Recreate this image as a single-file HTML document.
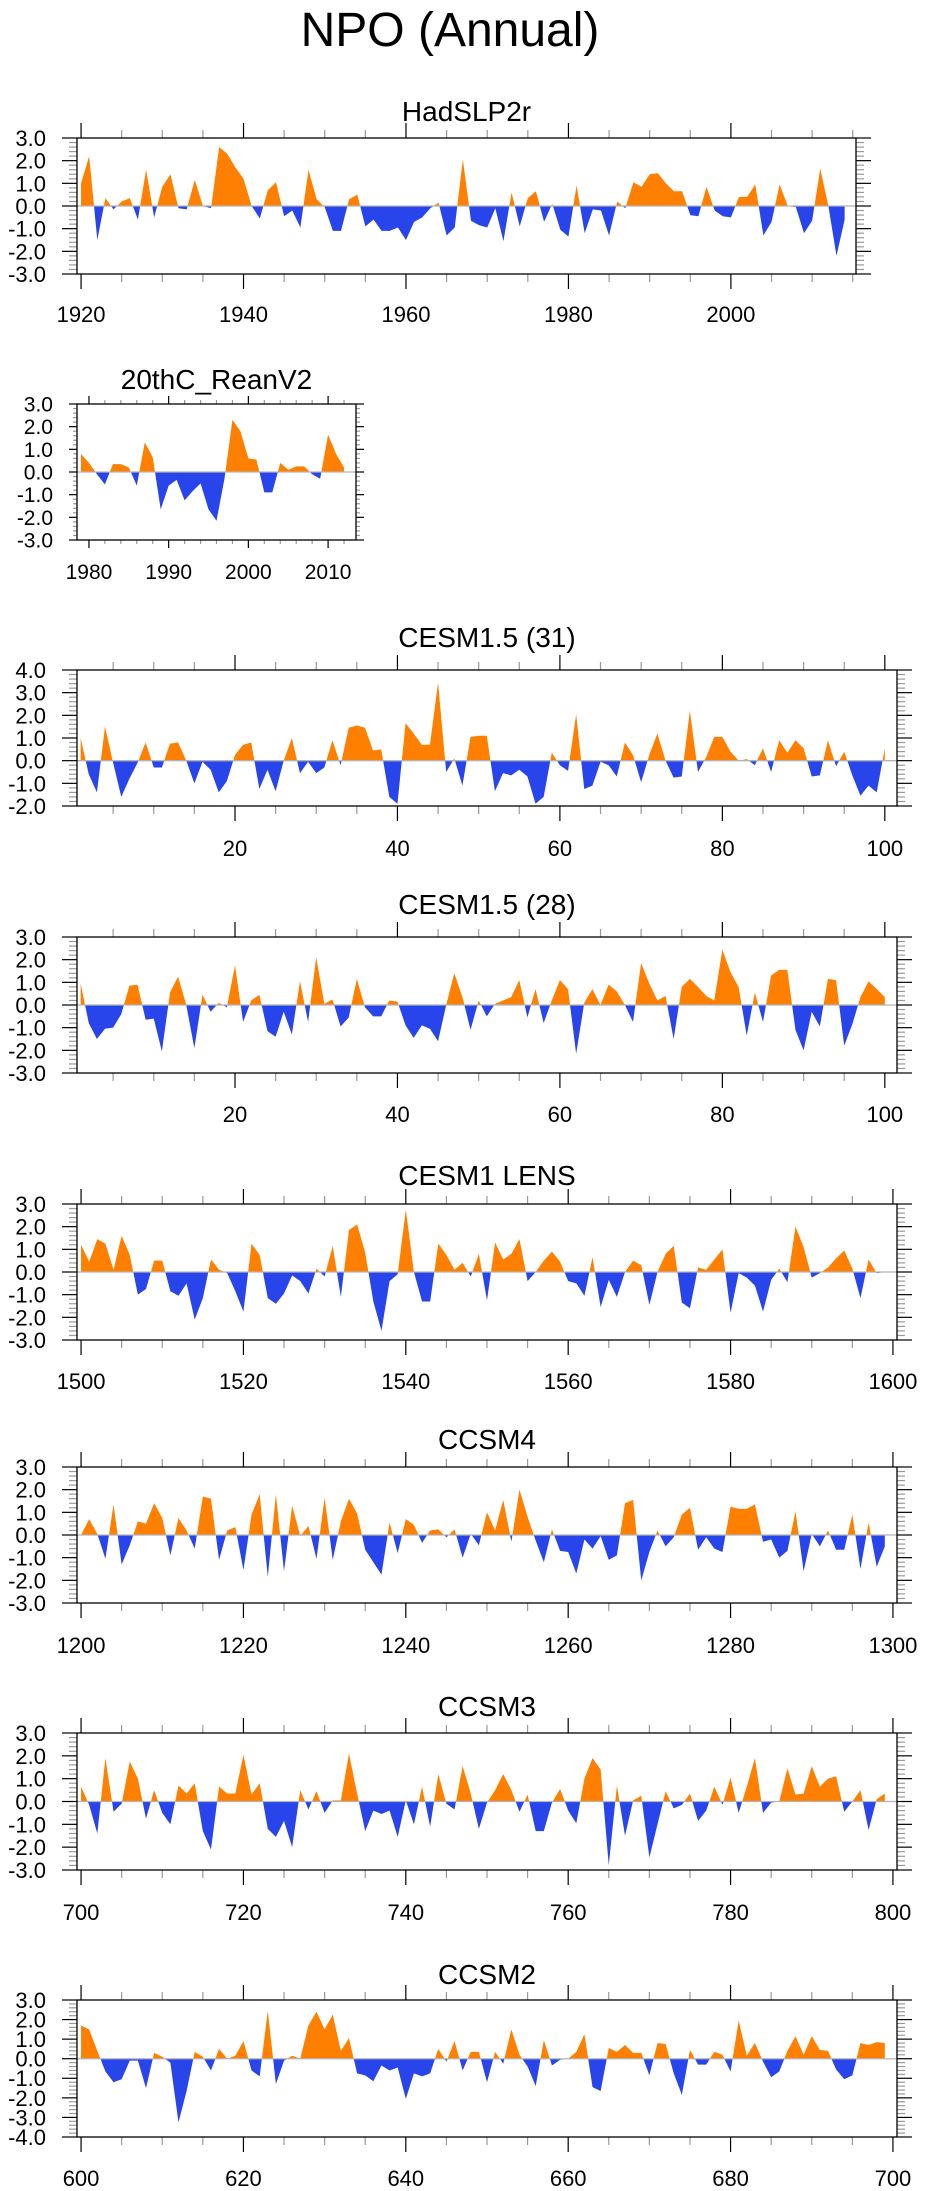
<!DOCTYPE html>
<html><head><meta charset="utf-8">
<style>
html,body{margin:0;padding:0;background:#fff;}
svg{display:block;font-family:"Liberation Sans",Arial,sans-serif;}
</style></head>
<body>
<svg id="fig" width="925" height="2191" viewBox="0 0 925 2191" xmlns="http://www.w3.org/2000/svg">
<text x="450" y="46" font-size="48" text-anchor="middle">NPO (Annual)</text>
</svg>
<script>
// ---- data ----
const hadYears0 = 1920;
const hadVals = [1.0,2.2,-1.5,0.35,-0.15,0.2,0.35,-0.6,1.6,-0.5,0.85,1.4,-0.1,-0.15,1.15,0.0,-0.1,2.6,2.3,1.7,1.2,0.0,-0.55,0.7,1.05,-0.45,-0.2,-0.95,1.6,0.3,-0.05,-1.1,-1.1,0.3,0.5,-0.9,-0.6,-1.1,-1.1,-0.95,-1.5,-0.7,-0.5,-0.1,0.15,-1.3,-0.95,2.05,-0.65,-0.85,-0.95,-0.1,-1.55,0.6,-0.9,0.35,0.65,-0.7,0.1,-1.05,-1.35,0.9,-1.2,-0.15,-0.2,-1.3,0.2,-0.1,1.05,0.85,1.4,1.45,1.0,0.65,0.65,-0.4,-0.45,0.85,-0.2,-0.45,-0.5,0.4,0.4,0.95,-1.3,-0.7,0.95,0.0,-0.05,-1.2,-0.65,1.65,0.0,-2.2,-0.6];
const reanYears0 = 1979;
const reanVals = [0.8,0.4,-0.1,-0.55,0.35,0.35,0.2,-0.6,1.3,0.65,-1.65,-0.6,-0.35,-1.25,-0.85,-0.5,-1.65,-2.15,-0.3,2.3,1.8,0.6,0.55,-0.9,-0.9,0.4,0.1,0.25,0.25,-0.1,-0.3,1.65,0.8,0.2];
const cesm31Start = 1;
const cesm31Vals = [1.0,-0.6,-1.4,1.5,-0.1,-1.6,-0.8,-0.1,0.8,-0.3,-0.3,0.75,0.8,0.0,-1.0,-0.05,-0.4,-1.4,-0.9,0.25,0.7,0.8,-1.25,-0.4,-1.35,0.0,1.0,-0.55,-0.05,-0.55,-0.3,0.9,-0.2,1.45,1.55,1.45,0.45,0.5,-1.6,-1.9,1.65,1.2,0.7,0.7,3.45,-0.5,0.1,-1.1,1.05,1.1,1.1,-1.35,-0.55,-0.65,-0.4,-0.7,-1.9,-1.6,0.35,-0.2,-0.45,2.05,-1.25,-1.1,-0.05,-0.2,-0.7,0.8,0.25,-0.95,0.25,1.2,0.0,-0.75,-0.7,2.2,-0.5,0.15,1.05,1.05,0.4,0.0,0.07,-0.2,0.55,-0.5,0.9,0.35,0.9,0.55,-0.7,-0.65,0.9,-0.25,0.4,-0.65,-1.55,-1.1,-1.4,0.55];
const cesm28Start = 1;
const cesm28Vals = [0.95,-0.8,-1.5,-1.05,-1.0,-0.4,0.85,0.9,-0.65,-0.6,-2.05,0.55,1.25,0.0,-1.9,0.45,-0.3,0.1,-0.1,1.75,-0.75,0.2,0.45,-1.15,-1.4,-0.3,-1.3,1.05,-0.75,2.1,0.05,0.25,-0.95,-0.55,1.15,-0.1,-0.5,-0.5,0.2,0.15,-0.9,-1.45,-0.9,-1.05,-1.6,0.0,1.4,0.35,-1.1,0.2,-0.5,0.05,0.2,0.35,1.1,-0.55,0.7,-0.8,0.2,1.1,0.7,-2.15,0.1,0.7,0.0,0.9,0.6,0.0,-0.75,1.85,0.95,0.2,0.4,-1.5,0.8,1.15,0.8,0.4,0.2,2.45,1.45,0.8,-1.35,0.55,-0.75,1.3,1.55,1.55,-1.1,-2.0,-0.3,-0.95,1.15,1.1,-1.8,-0.85,0.35,1.05,0.7,0.35];
const lensStart = 1500;
const lensVals = [1.2,0.45,1.45,1.25,0.1,1.6,0.75,-1.0,-0.75,0.5,0.5,-0.85,-1.05,-0.5,-2.1,-1.15,0.55,0.1,-0.05,-0.85,-1.75,1.25,0.75,-1.15,-1.4,-0.95,-0.15,-0.4,-0.95,0.15,-0.2,1.15,-1.1,1.85,2.1,0.85,-1.3,-2.6,-0.4,-0.1,2.75,0.0,-1.3,-1.3,1.25,0.75,0.1,0.4,-0.2,0.8,-1.25,1.3,0.55,0.8,1.45,-0.4,0.0,0.5,0.9,0.45,-0.4,-0.5,-1.05,0.65,-1.55,-0.35,-1.1,0.0,0.5,0.3,-1.45,0.0,0.8,1.15,-1.35,-1.6,0.2,0.1,0.55,1.0,-1.8,-0.05,-0.25,-0.6,-1.75,-0.35,0.15,-0.45,2.0,1.1,-0.25,-0.05,0.2,0.6,0.95,0.15,-1.15,0.55,-0.05,0.0];
const ccsm4Start = 1200;
const ccsm4Vals = [0.0,0.7,0.05,-1.05,1.35,-1.3,-0.45,0.6,0.5,1.4,0.75,-0.9,0.75,0.2,-0.6,1.7,1.6,-1.1,0.2,0.35,-1.55,0.9,1.8,-1.85,1.8,-1.6,1.3,-0.05,0.4,-1.05,1.65,-1.1,0.6,1.6,0.95,-0.65,-1.2,-1.75,0.55,-0.8,0.7,0.45,-0.35,0.2,0.25,-0.1,0.25,-1.0,0.05,-0.45,1.0,0.2,1.55,-0.3,2.0,0.8,-0.25,-1.2,0.25,-0.7,-0.75,-1.7,-0.2,-0.6,-0.05,-1.1,-0.9,1.4,1.55,-2.0,-0.75,0.2,-0.5,-0.1,0.9,1.2,-0.65,-0.1,-0.6,-0.75,1.25,1.15,1.15,1.35,-0.3,-0.2,-1.0,-0.7,1.05,-1.6,0.05,-0.5,0.2,-0.65,-0.65,0.9,-1.5,0.55,-1.4,-0.5];
const ccsm3Start = 700;
const ccsm3Vals = [0.65,-0.15,-1.4,1.9,-0.45,-0.1,1.75,1.0,-0.75,0.5,-0.5,-1.0,0.7,0.35,0.8,-1.3,-2.1,0.65,0.35,0.35,2.05,0.3,0.8,-1.2,-1.55,-0.85,-2.0,0.5,-0.35,0.45,-0.5,0.05,0.05,2.1,0.35,-1.3,-0.4,-0.55,-0.4,-1.55,0.05,-1.0,0.65,-1.1,1.2,-0.1,-0.35,1.55,0.35,-1.2,-0.05,0.5,1.2,0.5,-0.45,0.3,-1.3,-1.3,-0.05,0.55,-0.4,-0.95,1.0,1.9,1.4,-2.8,0.7,-1.5,0.05,0.25,-2.45,-1.0,0.45,-0.3,-0.15,0.35,-0.85,-0.4,0.65,-0.15,1.05,-0.5,0.65,1.9,-0.5,-0.05,0.0,1.45,0.3,0.35,1.55,0.65,1.0,1.1,-0.45,0.0,0.5,-1.25,0.1,0.35];
const ccsm2Start = 600;
const ccsm2Vals = [1.7,1.5,0.4,-0.65,-1.2,-1.05,-0.1,-0.1,-1.5,0.3,0.1,-0.2,-3.25,-1.65,0.35,0.1,-0.6,0.5,0.0,0.15,0.9,-0.6,-0.9,2.45,-1.3,-0.1,0.15,0.0,1.7,2.4,1.5,2.25,0.4,1.05,-0.75,-0.85,-1.15,-0.35,-0.6,-0.45,-2.05,-0.75,-0.9,-0.75,0.5,-0.15,0.9,-0.6,0.35,0.35,-1.2,0.35,-0.25,1.5,0.2,-0.4,-1.4,0.95,-0.35,-0.05,0.0,0.35,1.25,-1.45,-1.65,0.55,0.35,0.7,0.3,0.3,-0.85,0.8,0.75,-0.75,-1.85,0.45,-0.3,-0.3,0.35,0.2,-0.65,1.95,0.15,0.8,-0.15,-0.95,-0.65,0.4,1.15,0.2,1.15,0.45,0.4,-0.55,-1.05,-0.85,0.8,0.7,0.85,0.8];

// ---- layout ----
const panels = [
 {name:'hadslp2r',title:'HadSLP2r',start:hadYears0,vals:hadVals,L:77,R:856,T:138,B:274,xmin:1919.5,xmax:2015.4,ymin:-3,ymax:3,maj:20,min:5,first:1920,titleY:121,labY:322,maxL:15,minL:8,lab:22,labR:46,tfs:28},
 {name:'20thc-reanv2',title:'20thC_ReanV2',start:reanYears0,vals:reanVals,L:77,R:356,T:404,B:540,xmin:1978.5,xmax:2013.5,ymin:-3,ymax:3,maj:10,min:2,first:1980,titleY:389,labY:579,maxL:8,minL:4,lab:21,labR:53,tfs:28},
 {name:'cesm15-31',title:'CESM1.5 (31)',start:cesm31Start,vals:cesm31Vals,L:77,R:897,T:670,B:806,xmin:0.55,xmax:101.5,ymin:-2,ymax:4,maj:20,min:5,first:20,titleY:647,labY:856,maxL:15,minL:8,lab:22,labR:46,tfs:28},
 {name:'cesm15-28',title:'CESM1.5 (28)',start:cesm28Start,vals:cesm28Vals,L:77,R:897,T:937,B:1073,xmin:0.55,xmax:101.5,ymin:-3,ymax:3,maj:20,min:5,first:20,titleY:914,labY:1122,maxL:15,minL:8,lab:22,labR:46,tfs:28},
 {name:'cesm1-lens',title:'CESM1 LENS',start:lensStart,vals:lensVals,L:77,R:897,T:1204,B:1340,xmin:1499.5,xmax:1600.5,ymin:-3,ymax:3,maj:20,min:5,first:1500,titleY:1185,labY:1389,maxL:15,minL:8,lab:22,labR:46,tfs:28},
 {name:'ccsm4',title:'CCSM4',start:ccsm4Start,vals:ccsm4Vals,L:77,R:897,T:1467,B:1603,xmin:1199.5,xmax:1300.5,ymin:-3,ymax:3,maj:20,min:5,first:1200,titleY:1449,labY:1653,maxL:15,minL:8,lab:22,labR:46,tfs:28},
 {name:'ccsm3',title:'CCSM3',start:ccsm3Start,vals:ccsm3Vals,L:77,R:897,T:1733,B:1870,xmin:699.5,xmax:800.5,ymin:-3,ymax:3,maj:20,min:5,first:700,titleY:1716,labY:1920,maxL:15,minL:8,lab:22,labR:46,tfs:28},
 {name:'ccsm2',title:'CCSM2',start:ccsm2Start,vals:ccsm2Vals,L:77,R:897,T:2000,B:2137,xmin:599.5,xmax:700.5,ymin:-4,ymax:3,maj:20,min:5,first:600,titleY:1984,labY:2186,maxL:15,minL:8,lab:22,labR:46,tfs:28}
];

const NS='http://www.w3.org/2000/svg';
const svg=document.getElementById('fig');
function mk(tag,attrs,parent){const e=document.createElementNS(NS,tag);for(const k in attrs)e.setAttribute(k,attrs[k]);(parent||svg).appendChild(e);return e;}

panels.forEach((p,pi)=>{
  const g=mk('g',{});
  
  
  const xs=v=>p.L+(v-p.xmin)/(p.xmax-p.xmin)*(p.R-p.L);
  const ys=v=>p.B-(v-p.ymin)/(p.ymax-p.ymin)*(p.B-p.T);
  // title
  const t=mk('text',{x:(p.L+p.R)/2,y:p.titleY,'font-size':p.tfs,'text-anchor':'middle'},g);
  t.textContent=p.title;
  
  
  // area fill
  const y0=ys(0);
  let d='M'+xs(p.start)+','+y0;
  p.vals.forEach((v,i)=>{d+=' L'+xs(p.start+i).toFixed(2)+','+ys(v).toFixed(2);});
  d+=' L'+xs(p.start+p.vals.length-1).toFixed(2)+','+y0+' Z';
  const cpU='cu'+pi, cpD='cd'+pi;
  const defs=mk('defs',{},g);
  const c1=mk('clipPath',{id:cpU},defs); mk('rect',{x:p.L,y:p.T,width:p.R-p.L,height:y0-p.T},c1);
  const c2=mk('clipPath',{id:cpD},defs); mk('rect',{x:p.L,y:y0,width:p.R-p.L,height:p.B-y0},c2);
  const pos=mk('path',{d:d,fill:'#ff8000','clip-path':'url(#'+cpU+')'},g);
  
  
  const neg=mk('path',{d:d,fill:'#2845ec','clip-path':'url(#'+cpD+')'},g);
  
  
  const zl=mk('line',{x1:p.L,x2:p.R,y1:y0,y2:y0,stroke:'#b4b4b4','stroke-width':1.3},g);
  
  
  // y ticks
  for(let k=Math.round(p.ymin*5);k<=Math.round(p.ymax*5);k++){
    const v=k/5, y=ys(v), major=(k%5===0);
    const len=major?p.maxL:p.minL, col=major?'#000':'#999';
    mk('line',{x1:p.L-len,x2:p.L,y1:y,y2:y,stroke:col,'stroke-width':1.2},g);
    mk('line',{x1:p.R,x2:p.R+len,y1:y,y2:y,stroke:col,'stroke-width':1.2},g);
    if(major){
      const lt=mk('text',{x:p.labR,y:y+p.lab*0.36,'font-size':p.lab,'text-anchor':'end'},g);
      lt.textContent=v.toFixed(1);
      
      
    }
  }
  // x ticks
  const s=Math.ceil(p.xmin/p.min)*p.min;
  for(let v=s;v<=p.xmax;v+=p.min){
    const x=xs(v), major=((v-p.first)%p.maj===0);
    const len=major?p.maxL:p.minL, col=major?'#000':'#999';
    mk('line',{x1:x,x2:x,y1:p.T-len,y2:p.T,stroke:col,'stroke-width':1.2},g);
    mk('line',{x1:x,x2:x,y1:p.B,y2:p.B+len,stroke:col,'stroke-width':1.2},g);
    if(major && v>=p.first){
      const lt=mk('text',{x:x,y:p.labY,'font-size':p.lab,'text-anchor':'middle'},g);
      lt.textContent=String(v);
      
      
    }
  }
  const fr=mk('rect',{x:p.L,y:p.T,width:p.R-p.L,height:p.B-p.T,fill:'none',stroke:'#000','stroke-width':1.3},g);
  
  
});
</script>
</body></html>
